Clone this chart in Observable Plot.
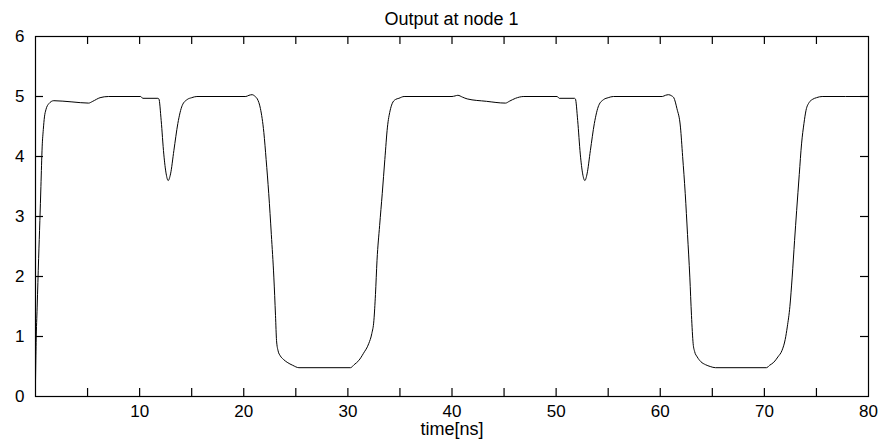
<!DOCTYPE html>
<html>
<head>
<meta charset="utf-8">
<script src="https://cdn.jsdelivr.net/npm/d3@7"></script>
<script src="https://cdn.jsdelivr.net/npm/@observablehq/plot@0.6"></script>
<style>
  html, body { margin: 0; padding: 0; background: #fff; }
  #wrap { position: relative; width: 882px; height: 445px; }
  #title { position: absolute; top: 4px; left: 35px; width: 833px; text-align: center;
           font: 18px "Liberation Sans", Arial, sans-serif; line-height: 30px; color: #000; }
</style>
</head>
<body>
<div id="wrap"><div id="title">Output at node 1</div></div>
<script>
const title = "Output at node 1";
const xLabel = "time[ns]";
const xTickPositions = [5, 10, 15, 20, 25, 30, 35, 40, 45, 50, 55, 60, 65, 70, 75];
const xTickLabels = [10, 20, 30, 40, 50, 60, 70, 80];
const yTickPositions = [1, 2, 3, 4, 5];
const yTickLabels = [0, 1, 2, 3, 4, 5, 6];

const time = [
  0, 0.06, 0.16, 0.3, 0.42, 0.52, 0.64, 0.75, 0.86, 1.0, 1.28, 1.76, 3.5, 5.1, 5.5, 6.2, 7.0,
  10.1, 10.3, 11.75, 11.85, 12.07, 12.32, 12.55, 12.74, 12.97, 13.29, 13.67, 14.09, 14.57, 15.0, 15.5,
  20.2, 20.5, 20.8, 21.1, 21.3, 21.6, 21.93, 22.15, 22.4, 22.65, 22.89, 23.05, 23.15, 23.3, 23.5, 23.8, 24.17, 24.7, 25.3,
  30.25, 30.6, 31.05, 31.5, 32.0, 32.3, 32.5, 32.65, 32.8, 33.05, 33.3, 33.55, 33.8, 34.05, 34.25, 34.57, 34.9, 35.4,
  40.0, 40.3, 40.56, 41.0, 41.46, 43.3, 45.14, 45.5, 46.1, 46.9,
  50.1, 50.3, 51.75, 51.85, 52.07, 52.32, 52.55, 52.76, 52.97, 53.29, 53.67, 54.09, 54.57, 55.0, 55.5,
  60.2, 60.5, 60.8, 61.1, 61.3, 61.6, 61.94, 62.15, 62.4, 62.62, 62.84, 63.0, 63.16, 63.3, 63.55, 63.9, 64.35, 64.8, 65.3,
  70.2, 70.5, 70.9, 71.3, 71.7, 72.0, 72.2, 72.45, 72.67, 72.9, 73.1, 73.35, 73.57, 73.8, 74.0, 74.3, 74.6, 75.0, 75.55, 80
];
const voltage = [
  0.25, 0.9, 1.49, 2.3, 2.93, 3.5, 4.16, 4.45, 4.66, 4.78, 4.88, 4.93, 4.91, 4.89, 4.92, 4.98, 5.0,
  5.0, 4.97, 4.97, 4.96, 4.6, 4.04, 3.71, 3.6, 3.71, 4.1, 4.55, 4.85, 4.95, 4.98, 5.0,
  5.0, 5.02, 5.03, 5.0, 4.96, 4.8, 4.4, 3.95, 3.38, 2.7, 1.99, 1.35, 0.93, 0.76, 0.68, 0.62, 0.57, 0.52, 0.48,
  0.48, 0.53, 0.6, 0.72, 0.88, 1.05, 1.27, 1.7, 2.27, 2.85, 3.38, 3.95, 4.49, 4.76, 4.88, 4.95, 4.97, 5.0,
  5.0, 5.01, 5.02, 4.99, 4.96, 4.92, 4.89, 4.92, 4.97, 5.0,
  5.0, 4.97, 4.97, 4.96, 4.6, 4.04, 3.71, 3.6, 3.71, 4.1, 4.55, 4.85, 4.95, 4.98, 5.0,
  5.0, 5.02, 5.03, 5.01, 4.98, 4.8, 4.49, 4.0, 3.38, 2.7, 1.99, 1.35, 0.88, 0.75, 0.66, 0.58, 0.53, 0.5, 0.48,
  0.48, 0.52, 0.57, 0.66, 0.77, 0.95, 1.16, 1.5, 1.99, 2.6, 3.1, 3.7, 4.21, 4.55, 4.77, 4.9, 4.95, 4.98, 5.0, 5.0
];

const data = time.map((t, i) => ({t, v: voltage[i]}));

const W = 882, H = 445;
const mL = 35, mR = 14, mT = 36, mB = 49;
const frameH = H - mT - mB;
const tick = 8;
const font = '"Liberation Sans", Arial, sans-serif';

const chart = Plot.plot({
  width: W,
  height: H,
  marginLeft: mL,
  marginRight: mR,
  marginTop: mT,
  marginBottom: mB,
  style: {fontFamily: font, fontSize: "17px", color: "#000", background: "#fff"},
  x: {domain: [0, 80], axis: null},
  y: {domain: [0, 6], axis: null},
  marks: [
    // inward ticks, bottom and top
    Plot.ruleX(xTickPositions, {stroke: "#000", strokeWidth: 1.2, insetTop: frameH - tick}),
    Plot.ruleX(xTickPositions, {stroke: "#000", strokeWidth: 1.2, insetBottom: frameH - tick}),
    // inward ticks, left and right
    Plot.ruleY(yTickPositions, {stroke: "#000", strokeWidth: 1.2, insetRight: (W - mL - mR) - tick}),
    Plot.ruleY(yTickPositions, {stroke: "#000", strokeWidth: 1.2, insetLeft: (W - mL - mR) - tick}),
    Plot.frame({stroke: "#000", strokeWidth: 1.2}),
    Plot.line(data, {x: "t", y: "v", stroke: "#000", strokeWidth: 1, curve: "monotone-x"}),
    Plot.text(xTickLabels, {x: d => d, frameAnchor: "bottom", dy: 20, text: d => String(d), fill: "#000", fontSize: 17}),
    Plot.text(yTickLabels, {y: d => d, frameAnchor: "left", dx: -11, textAnchor: "end", text: d => String(d), fill: "#000", fontSize: 17}),
    Plot.text([xLabel], {frameAnchor: "bottom", dy: 38, text: d => d, fill: "#000", fontSize: 18})
  ]
});

document.getElementById("wrap").appendChild(chart);
chart.style.display = "block";
</script>
</body>
</html>
